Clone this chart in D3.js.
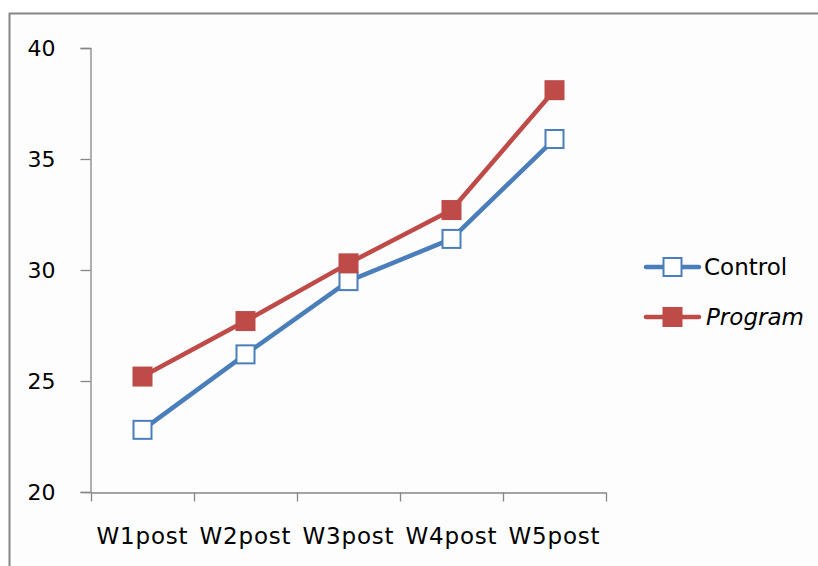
<!DOCTYPE html>
<html>
<head>
<meta charset="utf-8">
<script src="https://cdn.jsdelivr.net/npm/d3@7/dist/d3.min.js"></script>
<style>
  html, body { margin: 0; padding: 0; background: #ffffff; }
  svg { display: block; }
</style>
</head>
<body>
<svg id="chart" width="818" height="566"></svg>
<script>
// Weekly post-test scores for the two groups
const weeks = ["W1post", "W2post", "W3post", "W4post", "W5post"];
const controlScores = [22.8, 26.2, 29.5, 31.4, 35.9];
const programScores = [25.2, 27.7, 30.3, 32.7, 38.1];
const yTicks = [20, 25, 30, 35, 40];
const seriesNames = ["Control", "Program"];

const svg = d3.select("#chart");
const W = 818, H = 566;
const font = "'DejaVu Sans', 'Noto Sans', sans-serif";

// outer frame: only top and left edges are visible
svg.append("rect").attr("x", 0).attr("y", 0).attr("width", W).attr("height", H).attr("fill", "#ffffff");
svg.append("rect").attr("x", 10).attr("y", 14).attr("width", W - 10).attr("height", H - 14).attr("fill", "#fdfdfd");
svg.append("line").attr("x1", 9).attr("x2", W).attr("y1", 13.5).attr("y2", 13.5)
  .attr("stroke", "#858585").attr("stroke-width", 2);
svg.append("line").attr("x1", 9.5).attr("x2", 9.5).attr("y1", 13).attr("y2", H)
  .attr("stroke", "#858585").attr("stroke-width", 2);

const plot = { left: 91, right: 606, top: 48, bottom: 492 };

const x = d3.scaleBand().domain(weeks).range([plot.left, plot.right]).paddingInner(0).paddingOuter(0);
const y = d3.scaleLinear().domain([20, 40]).range([plot.bottom, plot.top]);

// y axis
const yAxis = d3.axisLeft(y).tickValues(yTicks).tickSize(10).tickPadding(25).tickFormat(d3.format("d"));
const gy = svg.append("g").attr("transform", `translate(${plot.left - 0.5},0)`).call(yAxis);
gy.select(".domain").attr("stroke", "#868686").attr("stroke-width", 1.3);
gy.selectAll(".tick line").attr("stroke", "#868686").attr("stroke-width", 1.3);
gy.selectAll(".tick text").attr("font-family", font).attr("font-size", 22).attr("fill", "#000");

// x axis with ticks at category boundaries
const xAxis = d3.axisBottom(x).tickSize(0).tickPadding(35);
const gx = svg.append("g").attr("transform", `translate(0,${plot.bottom + 0.5})`).call(xAxis);
gx.select(".domain").attr("stroke", "#868686").attr("stroke-width", 1.3);
gx.selectAll(".tick text").attr("font-family", font).attr("font-size", 23)
  .attr("letter-spacing", 0.8).attr("fill", "#000");
const bounds = weeks.map(w => x(w)).concat([x(weeks[weeks.length - 1]) + x.bandwidth()]);
gx.selectAll(".bound").data(bounds).enter().append("line")
  .attr("x1", d => Math.round(d) + 0.5).attr("x2", d => Math.round(d) + 0.5)
  .attr("y1", 0).attr("y2", 9)
  .attr("stroke", "#868686").attr("stroke-width", 1.3);

const cx = w => x(w) + x.bandwidth() / 2;
const line = d3.line().x(d => cx(d.week)).y(d => y(d.value));

const series = [
  { name: seriesNames[0], values: controlScores, color: "#4a7ebb", fill: "#ffffff", italic: false },
  { name: seriesNames[1], values: programScores, color: "#be4b48", fill: "#be4b48", italic: true }
];

const ms = 18;
series.forEach(s => {
  const pts = weeks.map((w, i) => ({ week: w, value: s.values[i] }));
  svg.append("path").datum(pts).attr("d", line)
    .attr("fill", "none").attr("stroke", s.color).attr("stroke-width", 4.5)
    .attr("stroke-linejoin", "round");
  svg.selectAll(null).data(pts).enter().append("rect")
    .attr("x", d => cx(d.week) - ms / 2).attr("y", d => y(d.value) - ms / 2)
    .attr("width", ms).attr("height", ms)
    .attr("fill", s.fill).attr("stroke", s.color).attr("stroke-width", 2);
});

// legend
const legendY = [267, 317];
series.forEach((s, i) => {
  const g = svg.append("g").attr("transform", `translate(646,${legendY[i]})`);
  g.append("line").attr("x1", 0).attr("x2", 53).attr("y1", 0).attr("y2", 0)
    .attr("stroke", s.color).attr("stroke-width", 4.5).attr("stroke-linecap", "round");
  g.append("rect").attr("x", 26.5 - ms / 2).attr("y", -ms / 2).attr("width", ms).attr("height", ms)
    .attr("fill", s.fill).attr("stroke", s.color).attr("stroke-width", 2);
  g.append("text").attr("x", s.italic ? 60 : 58).attr("y", 0).attr("dy", "0.36em")
    .attr("font-family", font).attr("font-size", 23)
    .attr("font-style", s.italic ? "italic" : "normal")
    .attr("fill", "#000").text(s.name);
});
</script>
</body>
</html>
